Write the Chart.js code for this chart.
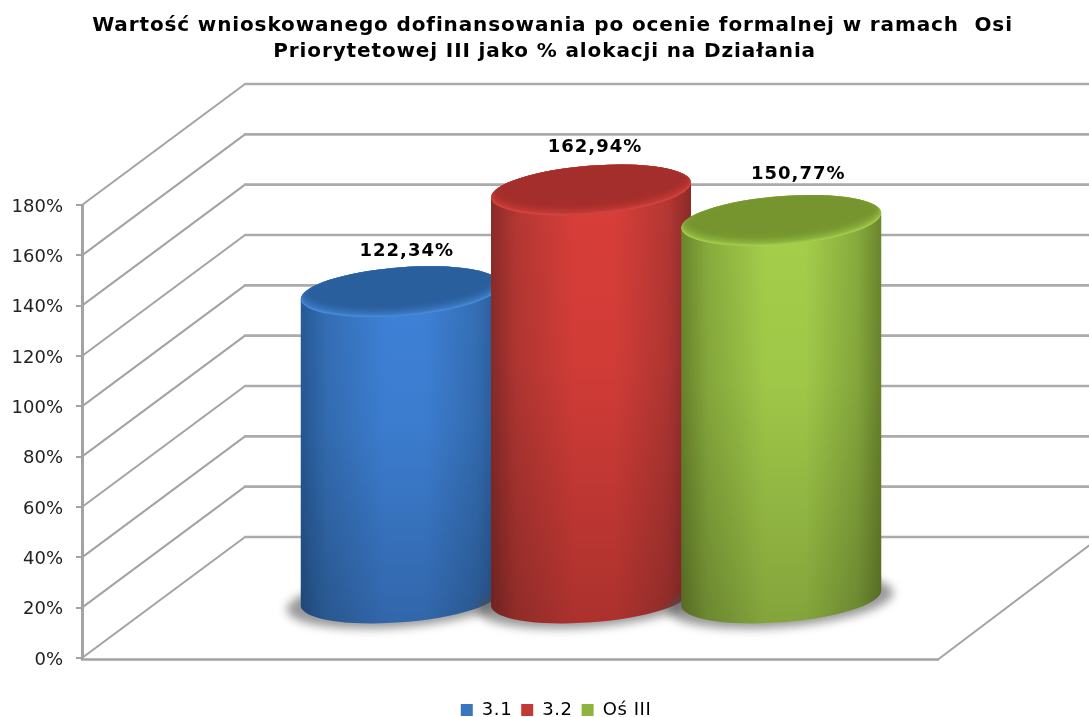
<!DOCTYPE html>
<html><head><meta charset="utf-8">
<style>html,body{margin:0;padding:0;background:#fff;overflow:hidden}canvas{display:block}</style>
<script src="https://cdn.jsdelivr.net/npm/chart.js@4"></script>
</head><body><canvas id="c" width="1089" height="717"></canvas>
<script>
const titleLines = ['Wartość wnioskowanego dofinansowania po ocenie formalnej w ramach  Osi','Priorytetowej III jako % alokacji na Działania  '];
const categories = ['Działania'];
const seriesNames = ['3.1','3.2','Oś III'];
const values31 = [122.34];
const values32 = [162.94];
const valuesOs3 = [150.77];
const legendColors = ['#3a76bf','#c23a36','#8fb33c'];
const palettes = [
  {edge:'#275a98',side:'#3570b8',mid:'#3f83da',face:'#2a5f9e',rim:'#3d7cc8',glow:'#4f93e0'},
  {edge:'#8c2c2a',side:'#b83834',mid:'#dc3f3a',face:'#a42e2b',rim:'#c63b37',glow:'#dc4a44'},
  {edge:'#6c872d',side:'#8aae3e',mid:'#a8d24c',face:'#76952f',rim:'#94bc42',glow:'#aed653'}
];
const labelNudge = [[6,-40],[4,-43],[17,-46]];

const D2R = Math.PI/180;
const spacing = {
  id:'spacing',
  beforeDraw(chart){
    if(chart.$spaced) return;
    chart.$spaced=true;
    [[chart.titleBlock,'0.87px'],[chart.legend,'0.6px']].forEach(([box,sp])=>{
      const orig=box.draw.bind(box);
      box.draw=function(c){
        const x=chart.ctx;
        x.save();x.translate(8,0);x.letterSpacing=sp;
        orig(c);
        x.restore();
      };
    });
  }
};
const wall3d = {
  id:'wall3d',
  beforeDatasetsDraw(chart){
    const {ctx,scales:{y}} = chart;
    const fx=y.right, bx=245, depth=121, rx=1089;
    ctx.save();
    ctx.lineCap='round';ctx.lineJoin='round';
    y.ticks.forEach(t=>{
      const py=y.getPixelForValue(t.value);
      ctx.strokeStyle='#a3a3a3';ctx.lineWidth=2;
      ctx.beginPath();ctx.moveTo(fx,py);ctx.lineTo(bx,py-depth);ctx.stroke();
      ctx.strokeStyle='#ababab';ctx.lineWidth=2.6;
      ctx.beginPath();ctx.moveTo(bx,py-depth);ctx.lineTo(rx,py-depth);ctx.stroke();
    });
    const p0=y.getPixelForValue(0)+1.5;
    ctx.strokeStyle='#a3a3a3';ctx.lineWidth=2.6;
    ctx.beginPath();ctx.moveTo(fx,p0);ctx.lineTo(938,p0);ctx.stroke();
    ctx.lineWidth=2;
    ctx.beginPath();ctx.moveTo(938,p0);ctx.lineTo(rx,p0-114);ctx.stroke();
    ctx.restore();
  }
};
const cylinders = {
  id:'cylinders',
  beforeDatasetsDraw(chart){
    const {ctx,scales:{y}} = chart;
    const y0=y.getPixelForValue(0), rot=-4.5*D2R, shiftX=5.5, lift=60, k=0.995;
    chart.data.datasets.forEach((ds,i)=>{
      const el=chart.getDatasetMeta(i).data[0];
      const cx=el.x+shiftX, a=el.width*0.527, b=24.3;
      const yb=y0-lift, yt=yb-(y0-el.y)*k;
      const pal=palettes[i];
      const t0=Math.atan(-(b/a)*Math.tan(rot));
      // ground shadow
      ctx.save();
      ctx.filter='blur(5px)';
      ctx.fillStyle='rgba(80,80,80,0.58)';
      ctx.beginPath();ctx.ellipse(cx-1,yb+3,a+13,b+2,rot,0,Math.PI*2);ctx.fill();
      ctx.restore();
      // body
      ctx.save();
      ctx.beginPath();
      ctx.ellipse(cx,yb,a,b,rot,t0,t0+Math.PI);
      ctx.ellipse(cx,yt,a,b,rot,t0+Math.PI,t0+2*Math.PI);
      ctx.closePath();
      ctx.clip();
      const g=ctx.createLinearGradient(cx-a,0,cx+a,0);
      g.addColorStop(0,pal.edge);
      g.addColorStop(0.13,pal.side);
      g.addColorStop(0.42,pal.mid);
      g.addColorStop(0.62,pal.mid);
      g.addColorStop(0.88,pal.side);
      g.addColorStop(1,pal.edge);
      ctx.fillStyle=g;ctx.fillRect(cx-a-2,yt-b-12,2*a+4,yb-yt+2*b+24);
      const v=ctx.createLinearGradient(0,yt,0,yb+b);
      v.addColorStop(0,'rgba(0,0,0,0.02)');v.addColorStop(0.4,'rgba(0,0,0,0.05)');v.addColorStop(1,'rgba(0,0,0,0.22)');
      ctx.fillStyle=v;ctx.fillRect(cx-a-2,yt-b-12,2*a+4,yb-yt+2*b+24);
      ctx.restore();
      // top rim + face
      ctx.save();
      ctx.beginPath();ctx.ellipse(cx,yt,a,b,rot,0,Math.PI*2);ctx.clip();
      ctx.fillStyle=pal.glow;ctx.fillRect(cx-a-2,yt-b-12,2*a+4,2*b+24);
      ctx.filter='blur(1px)';
      ctx.fillStyle=pal.rim;
      ctx.beginPath();ctx.ellipse(cx,yt-1.5,a-0.5,b,rot,0,Math.PI*2);ctx.fill();
      ctx.filter='blur(3px)';
      ctx.fillStyle=pal.face;
      ctx.beginPath();ctx.ellipse(cx,yt-5,a-1,b,rot,0,Math.PI*2);ctx.fill();
      ctx.restore();
    });
  },
  afterDatasetsDraw(chart){
    const {ctx,scales:{y}} = chart;
    const y0=y.getPixelForValue(0), shiftX=5.5, lift=60, k=0.995;
    chart.data.datasets.forEach((ds,i)=>{
      const el=chart.getDatasetMeta(i).data[0];
      const yt=y0-lift-(y0-el.y)*k;
      const txt=ds.data[0].toFixed(2).replace('.',',')+'%';
      ctx.save();
      ctx.font='bold 18px "DejaVu Sans"';
      ctx.letterSpacing='1px';
      ctx.fillStyle='#000';ctx.textAlign='center';ctx.textBaseline='middle';
      ctx.fillText(txt,el.x+shiftX+labelNudge[i][0],yt+labelNudge[i][1]);
      ctx.restore();
    });
  }
};
const arrs=[values31,values32,valuesOs3];
new Chart(document.getElementById('c'),{
  type:'bar',
  data:{labels:categories,datasets:seriesNames.map((n,i)=>({label:n,data:arrs[i],backgroundColor:'rgba(0,0,0,0)',borderWidth:0}))},
  plugins:[spacing,wall3d,cylinders],
  options:{
    responsive:false,animation:false,events:[],
    layout:{padding:{left:0,right:0,top:0,bottom:-12}},
    datasets:{bar:{categoryPercentage:0.5668,barPercentage:1}},
    plugins:{
      tooltip:{enabled:false},
      title:{display:true,text:titleLines,color:'#000',font:{family:'"DejaVu Sans"',size:20,weight:'bold',lineHeight:1.3},padding:{top:13,bottom:140}},
      legend:{position:'bottom',labels:{
        font:{family:'"DejaVu Sans"',size:18,lineHeight:1.2},color:'#222',boxWidth:12,boxHeight:12,padding:9,
        generateLabels:()=>seriesNames.map((n,i)=>({text:n,fillStyle:legendColors[i],strokeStyle:legendColors[i],lineWidth:0,datasetIndex:i}))
      }}
    },
    scales:{
      x:{display:true,grid:{display:false},border:{display:false},ticks:{display:false},afterFit:s=>{s.height=34;}},
      y:{min:0,max:180,
        afterFit:s=>{s.width=82;},
        ticks:{stepSize:20,padding:13,labelOffset:2,color:'#222',font:{family:'"DejaVu Sans"',size:18},callback:v=>v+'%'},
        grid:{drawOnChartArea:false,drawTicks:true,tickLength:6,color:'#a3a3a3',lineWidth:2},
        border:{display:true,color:'#a3a3a3',width:3}
      }
    }
  }
});
</script></body></html>
